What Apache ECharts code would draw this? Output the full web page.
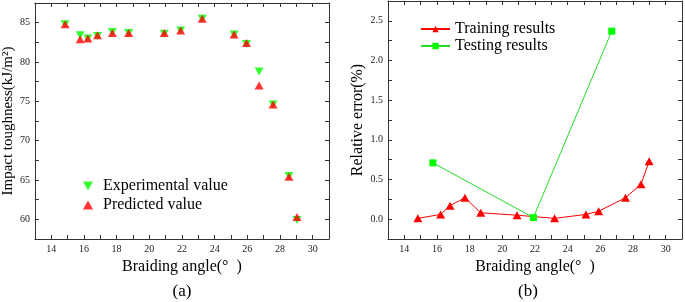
<!DOCTYPE html>
<html lang="en">
<head>
    <meta charset="UTF-8">
    <title>Impact toughness vs braiding angle</title>
    <script src="https://cdn.jsdelivr.net/npm/echarts@6.0.0/dist/echarts.min.js"></script>
    <style>
        html, body { margin: 0; padding: 0; background: #fff; }
        #chart { width: 685px; height: 302px; }
    </style>
</head>
<body>
    <div id="chart"></div>

    <script>
        // (a) 冲击韧性
        const angles = [14.85, 15.77, 16.24, 16.83, 17.74, 18.74, 20.92, 21.92, 23.24, 25.19, 25.95, 26.72, 27.58, 28.55, 29.04];
        const experimental = [84.8, 83.4, 83.0, 83.3, 83.8, 83.7, 83.6, 84.0, 85.5, 83.5, 82.3, 78.8, 74.6, 65.5, 59.9];
        const predicted = [84.8, 82.9, 83.0, 83.4, 83.7, 83.7, 83.7, 84.0, 85.5, 83.5, 82.4, 77.0, 74.6, 65.4, 60.3];

        // (b) 相对误差
        const trainAngles = [14.83, 16.22, 16.8, 17.71, 18.68, 20.9, 23.2, 25.12, 25.9, 27.54, 28.49, 28.99];
        const trainError = [0.01, 0.06, 0.17, 0.27, 0.08, 0.05, 0.01, 0.06, 0.10, 0.27, 0.44, 0.73];
        const testAngles = [15.75, 21.9, 26.7];
        const testError = [0.71, 0.02, 2.37];

        const serif = "'Liberation Serif', 'Times New Roman', serif";
        const RED = '#ff0000';
        const GREEN = '#00ff00';

        const pair = (xs, ys) => xs.map((x, i) => [x, ys[i]]);

        function xAxisFor(gridIndex, position, showName) {
            return {
                type: 'value', gridIndex, position,
                min: 13, max: 31, interval: 1,
                name: showName ? 'Braiding angle(°  )' : '',
                nameLocation: 'middle', nameGap: 20,
                nameTextStyle: { fontFamily: serif, fontSize: 16, color: '#000' },
                axisLine: { onZero: false, lineStyle: { color: '#333', width: 1 } },
                axisTick: { inside: true, length: 4, lineStyle: { color: '#333' } },
                axisLabel: {
                    show: position === 'bottom', margin: 5,
                    fontFamily: serif, fontSize: 10, color: '#222',
                    formatter: v => (v % 2 === 0 ? String(v) : '')
                },
                splitLine: { show: false }
            };
        }

        function yAxisFor(gridIndex, position, opts) {
            return {
                type: 'value', gridIndex, position,
                min: opts.min, max: opts.max, interval: opts.step,
                name: position === 'left' ? opts.name : '',
                nameLocation: 'middle', nameGap: opts.nameGap,
                nameTextStyle: { fontFamily: serif, fontSize: opts.nameSize, color: '#000' },
                axisLine: { onZero: false, lineStyle: { color: '#333', width: 1 } },
                axisTick: { inside: true, length: 4, lineStyle: { color: '#333' } },
                axisLabel: {
                    show: position === 'left', margin: 5,
                    fontFamily: serif, fontSize: 10, color: '#222',
                    formatter: opts.fmt
                },
                splitLine: { show: false }
            };
        }

        const isMajor = (v, m) => Math.abs(v / m - Math.round(v / m)) < 1e-6;

        const leftY = {
            min: 57.5, max: 87.5, step: 2.5, nameGap: 17, nameSize: 15,
            name: 'Impact toughness(kJ/m²)',
            fmt: v => (isMajor(v, 5) ? String(Math.round(v)) : '')
        };
        const rightY = {
            min: -0.25, max: 2.75, step: 0.25, nameGap: 22, nameSize: 16,
            name: 'Relative error(%)',
            fmt: v => (isMajor(v, 0.5) && v >= 0 ? v.toFixed(1) : '')
        };

        const chart = echarts.init(document.getElementById('chart'));
        chart.setOption({
            animation: false,
            backgroundColor: '#fff',
            grid: [
                { left: 34, top: 3, width: 295, height: 236 },
                { left: 388, top: 1, width: 296, height: 238 }
            ],
            xAxis: [
                xAxisFor(0, 'bottom', true),
                xAxisFor(0, 'top', false),
                xAxisFor(1, 'bottom', true),
                xAxisFor(1, 'top', false)
            ],
            yAxis: [
                yAxisFor(0, 'left', leftY),
                yAxisFor(0, 'right', leftY),
                yAxisFor(1, 'left', rightY),
                yAxisFor(1, 'right', rightY)
            ],
            legend: [
                {
                    orient: 'vertical', left: 83, top: 178, padding: 0,
                    itemWidth: 10, itemHeight: 9, itemGap: 3,
                    textStyle: { fontFamily: serif, fontSize: 16, color: '#000', padding: [0, 0, 0, 5] },
                    data: [
                        { name: 'Experimental value', icon: 'path://M0,0L10,0L5,9Z' },
                        { name: 'Predicted value', icon: 'triangle' }
                    ]
                },
                {
                    orient: 'vertical', left: 420, top: 21, padding: 0,
                    itemWidth: 29, itemHeight: 8, itemGap: 1,
                    textStyle: { fontFamily: serif, fontSize: 16, color: '#000' },
                    data: ['Training results', 'Testing results']
                }
            ],
            graphic: [
                { type: 'text', x: 182, y: 283, style: { text: '(a)', fontFamily: serif, fontSize: 17, fill: '#000', textAlign: 'center' } },
                { type: 'text', x: 528, y: 283, style: { text: '(b)', fontFamily: serif, fontSize: 17, fill: '#000', textAlign: 'center' } }
            ],
            series: [
                {
                    name: 'Experimental value', type: 'scatter',
                    xAxisIndex: 0, yAxisIndex: 0,
                    symbol: 'triangle', symbolRotate: 180, symbolSize: [9, 8],
                    itemStyle: { color: GREEN },
                    data: pair(angles, experimental)
                },
                {
                    name: 'Predicted value', type: 'scatter',
                    xAxisIndex: 0, yAxisIndex: 0,
                    symbol: 'triangle', symbolSize: [9, 8],
                    itemStyle: { color: RED },
                    data: pair(angles, predicted)
                },
                {
                    name: 'Training results', type: 'line',
                    xAxisIndex: 2, yAxisIndex: 2,
                    symbol: 'triangle', symbolSize: [9, 8],
                    lineStyle: { color: RED, width: 1 },
                    itemStyle: { color: RED },
                    data: pair(trainAngles, trainError)
                },
                {
                    name: 'Testing results', type: 'line',
                    xAxisIndex: 2, yAxisIndex: 2,
                    symbol: 'rect', symbolSize: 7,
                    lineStyle: { color: '#22dd22', width: 1 },
                    itemStyle: { color: GREEN },
                    data: pair(testAngles, testError)
                }
            ]
        });
    </script>
</body>
</html>
